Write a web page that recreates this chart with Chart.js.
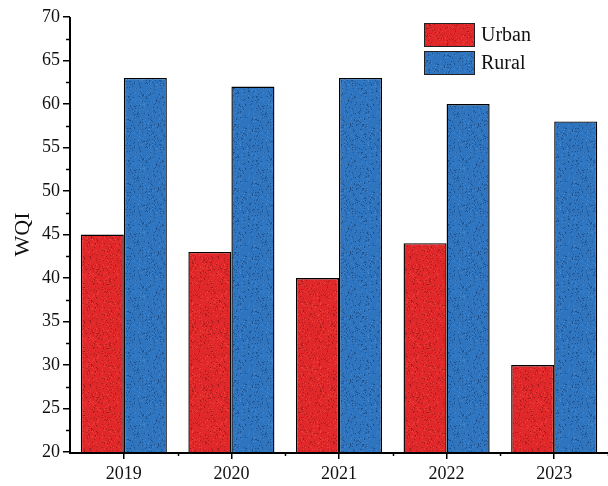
<!DOCTYPE html>
<html><head><meta charset="utf-8">
<script src="https://cdn.jsdelivr.net/npm/chart.js@4/dist/chart.umd.min.js"></script>
<style>html,body{margin:0;padding:0;background:#fff}#wrap{width:608px;height:486px}</style>
</head><body><div id="wrap"><canvas id="c" width="608" height="486"></canvas></div>
<script>
const categories = ['2019','2020','2021','2022','2023'];
const urbanValues = [45, 43, 40, 44, 30];
const ruralValues = [63, 62, 63, 60, 58];
const seriesNames = ['Urban','Rural'];

function makePattern(base, dark, light, seed){
  const c = document.createElement('canvas'); c.width = 64; c.height = 64;
  const g = c.getContext('2d');
  g.fillStyle = base; g.fillRect(0,0,64,64);
  let s = seed;
  const rnd = () => { s = (s*1103515245 + 12345) & 0x7fffffff; return s/0x7fffffff; };
  for(let i=0;i<700;i++){
    const x = Math.floor(rnd()*64), y = Math.floor(rnd()*64);
    g.fillStyle = rnd() < 0.55 ? dark : light;
    g.fillRect(x,y,1,1);
  }
  return g.createPattern(c,'repeat');
}
const ctx0 = document.getElementById('c').getContext('2d');
const redFill = makePattern('#e0282a','#a81c1e','#ee4038', 7);
const blueFill = makePattern('#2e74bf','#22528c','#3f86d0', 13);

const FONT = '"Liberation Serif", "Times New Roman", serif';

const minorTicks = {
  id:'minorTicks',
  afterDraw(chart){
    const g = chart.ctx, y = chart.scales.y, x = chart.scales.x;
    g.save(); g.strokeStyle='#000'; g.lineWidth=1.5;
    for(let v=22.5; v<70; v+=5){
      const py = Math.round(y.getPixelForValue(v))+0.5;
      g.beginPath(); g.moveTo(y.right-4, py); g.lineTo(y.right, py); g.stroke();
    }
    const n = categories.length;
    for(let i=1;i<=n;i++){
      const px = Math.round(x.getPixelForValue(i-0.5))+0.5;
      g.beginPath(); g.moveTo(px, x.top); g.lineTo(px, x.top+4); g.stroke();
    }
    g.lineWidth=2;
    g.beginPath(); g.moveTo(y.right, chart.chartArea.top); g.lineTo(y.right, chart.chartArea.bottom+1); g.lineTo(chart.width, chart.chartArea.bottom+1); g.stroke();
    const fills = [redFill, blueFill];
    g.font = '20px ' + FONT; g.textBaseline='middle';
    chart.data.datasets.forEach((ds,i)=>{
      const bx=424, by=23 + i*28, bw=50, bh=23;
      g.fillStyle = fills[i]; g.fillRect(bx,by,bw,bh);
      g.lineWidth=1; g.strokeStyle='#222'; g.strokeRect(bx+0.5,by+0.5,bw,bh);
      g.fillStyle='#111'; g.fillText(ds.label, bx+bw+7, by+bh/2+1);
    });
    g.restore();
  }
};

new Chart(ctx0, {
  type:'bar',
  data:{
    labels: categories,
    datasets:[
      {label: seriesNames[0], data: urbanValues, backgroundColor: redFill, borderColor:'#000', borderWidth:1.4, borderSkipped:'bottom'},
      {label: seriesNames[1], data: ruralValues, backgroundColor: blueFill, borderColor:'#000', borderWidth:1.4, borderSkipped:'bottom'}
    ]
  },
  options:{
    responsive:false, animation:false, devicePixelRatio:1,
    layout:{padding:{top:17, right:0, left:0, bottom:0}},
    datasets:{bar:{categoryPercentage:0.8, barPercentage:1.0}},
    plugins:{legend:{display:false}, tooltip:{enabled:false}},
    scales:{
      x:{
        grid:{display:true, drawOnChartArea:false, drawTicks:true, tickLength:7, offset:false, color:'#000', lineWidth:1.5},
        border:{display:false},
        ticks:{color:'#111', font:{family:FONT, size:18}, padding:4},
        afterFit(s){ s.height = 34; }
      },
      y:{
        min:20, max:70,
        grid:{display:true, drawOnChartArea:false, drawTicks:true, tickLength:7, color:'#000', lineWidth:1.5},
        border:{display:false},
        ticks:{stepSize:5, color:'#111', font:{family:FONT, size:18}, padding:3},
        title:{display:true, text:'WQI', color:'#111', font:{family:FONT, size:22}, padding:{top:10,bottom:4}},
        afterFit(s){ s.width = 70; }
      }
    }
  },
  plugins:[minorTicks]
});
</script></body></html>
